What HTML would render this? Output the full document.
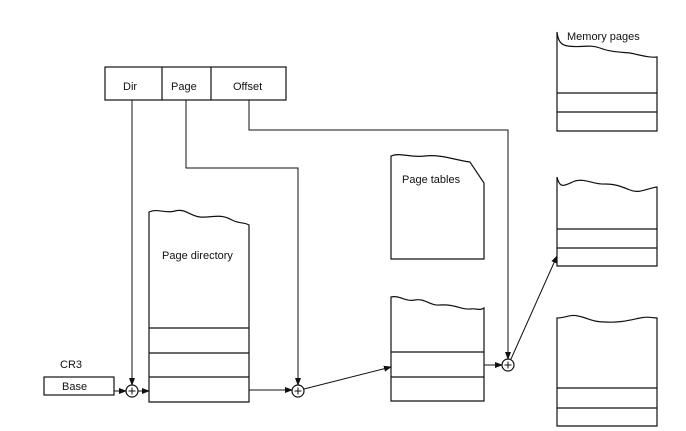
<!DOCTYPE html>
<html><head><style>body{margin:0;background:#fff}svg{display:block}text{font-family:"Liberation Sans",sans-serif;font-size:11px;fill:#111}</style></head><body>
<svg width="686" height="431" viewBox="0 0 686 431" xmlns="http://www.w3.org/2000/svg">
<defs><marker id="a" markerWidth="8" markerHeight="6" refX="7" refY="3" orient="auto" markerUnits="userSpaceOnUse"><path d="M0,0 L8,3 L0,6 z" fill="#111"/></marker></defs>
<g stroke="#111" stroke-width="1.2" fill="none">
<rect x="105" y="67" width="181" height="33"/>
<line x1="162" y1="67" x2="162" y2="100"/><line x1="211" y1="67" x2="211" y2="100"/>
<rect x="44" y="377" width="70" height="18"/>
<path d="M149,402 V212 C158,208 165,214 175,211 C185,208 190,216 200,217 C212,218 220,213 232,220 C240,224 244,222 249,225 V402 Z"/>
<line x1="149" y1="328" x2="249" y2="328"/><line x1="149" y1="353" x2="249" y2="353"/><line x1="149" y1="377" x2="249" y2="377"/>
<path d="M391,259 V156 C400,152 410,158 425,156 C440,154 455,160 470,162 L484,183 V259 Z"/>
<path d="M391,401 V297 C400,295 405,302 415,300 C425,298 430,306 440,305 C455,304 462,310 470,309 C476,308 480,311 484,308 V401 Z"/>
<line x1="391" y1="352" x2="484" y2="352"/><line x1="391" y1="377" x2="484" y2="377"/>
<path d="M557,131 V32 C558,40 560,45 568,46 C580,48 590,44 600,48 C610,52 620,52 630,53 C640,55 650,58 657,57 V131 Z"/>
<line x1="557" y1="93" x2="657" y2="93"/><line x1="557" y1="112" x2="657" y2="112"/>
<path d="M557,266 V177 C560,190 565,185 575,181 C585,178 595,185 605,184 C615,184 620,186 630,190 C640,194 648,188 657,187 V266 Z"/>
<line x1="557" y1="229" x2="657" y2="229"/><line x1="557" y1="248" x2="657" y2="248"/>
<path d="M557,426 V318 C565,318 570,314 578,316 C588,318 592,322 605,322 C620,323 630,320 640,318 C648,316 652,318 657,318 V426 Z"/>
<line x1="557" y1="388" x2="657" y2="388"/><line x1="557" y1="408" x2="657" y2="408"/>
<circle cx="132" cy="391" r="6"/><circle cx="298" cy="391" r="6"/><circle cx="508" cy="365" r="6"/>
<path d="M132,387.5 V394.5 M128.5,391 H135.5 M298,387.5 V394.5 M294.5,391 H301.5 M508,361.5 V368.5 M504.5,365 H511.5" stroke-width="1"/>
</g>
<g stroke="#111" stroke-width="1" fill="none" marker-end="url(#a)">
<path d="M132,100 V385"/>
<path d="M186,100 V168 H298 V385"/>
<path d="M249,100 V130 H508 V359"/>
<path d="M114,391 H126"/>
<path d="M138,391 H149"/>
<path d="M249,390 H292"/>
<path d="M304,389 L391,367"/>
<path d="M484,365 H502"/>
<path d="M511,359 L557,256"/>
</g>
<text x="123" y="90">Dir</text><text x="171" y="90">Page</text><text x="233" y="90">Offset</text>
<text x="60" y="368">CR3</text><text x="62" y="390">Base</text>
<text x="162" y="259">Page directory</text>
<text x="402" y="183">Page tables</text>
<text x="567" y="40">Memory pages</text>
</svg>
</body></html>
